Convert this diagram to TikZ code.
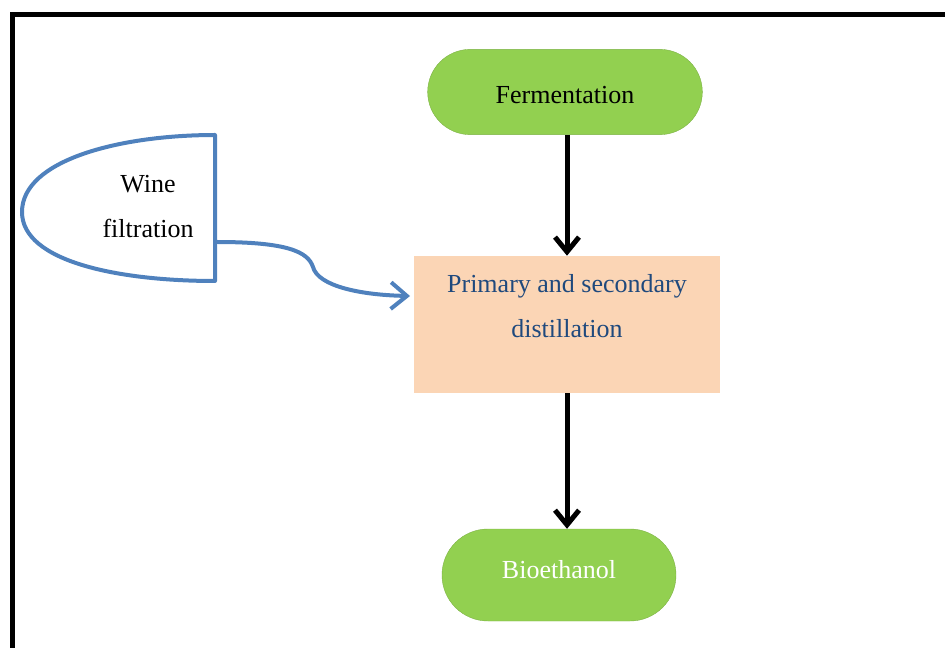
\documentclass[tikz,border=0pt]{standalone}
\usepackage{fontspec}
\setmainfont{Liberation Serif}
\usetikzlibrary{positioning, arrows.meta}
\definecolor{flowGreen}{HTML}{92D050}
\definecolor{flowPeach}{HTML}{FBD5B5}
\definecolor{flowBlue}{HTML}{4F81BD}
\definecolor{flowNavy}{HTML}{1F497D}

\begin{document}
\begin{tikzpicture}[x=0.75pt, y=-0.75pt,
    every node/.style={font=\fontsize{19.5}{33.75}\selectfont},
    terminal/.style={fill=flowGreen, draw=flowGreen!85!black, line width=0.3pt,
      inner sep=0pt},
    flowarrow/.style={-{Straight Barb[length=11pt, width=18pt]},
      line width=3.75pt, black},
    feedarrow/.style={-{Straight Barb[length=12pt, width=20pt]},
      line width=3pt, flowBlue}]
    \useasboundingbox (0,0) rectangle (945,648);
    % ---- outer frame ----
    \draw[line width=3.75pt] (12,648) -- (12,15) -- (945,15);
    % ---- main chain ----
    \node[terminal, minimum width=206pt, minimum height=64pt,
          rounded corners=32pt, text height=18pt, text depth=0pt] (ferm)
      at (565,92) {Fermentation};
    \node[fill=flowPeach, minimum width=229.5pt, minimum height=102.75pt,
          inner sep=0pt] (dist) at (567,324.5) {};
    \node[text=flowNavy, align=center, anchor=north, inner sep=0pt]
      (distlabel) at ([yshift=-14pt]dist.north)
      {Primary and secondary\\distillation};
    \node[terminal, minimum width=175.5pt, minimum height=69pt,
          rounded corners=34.5pt, text=white, text depth=8pt] (bio)
      at (559,575) {Bioethanol};
    \draw[flowarrow] (ferm.south -| dist.north) -- (dist.north);
    \draw[flowarrow] (dist.south) -- (dist.south |- bio.north);
    % ---- wine filtration input ----
    \draw[line width=3pt, flowBlue, line join=round]
      (215,135) -- (215,281)
      .. controls (120,281) and (22,262) .. (22,212)
      .. controls (22,160) and (120,135) .. (215,135) -- cycle;
    \node[align=center] (wine) at (148,207) {Wine\\filtration};
    \coordinate (wineout) at (217,242);
    \coordinate (distin) at (410,296);
    \draw[feedarrow] (wineout) .. controls (288,242) and (308,252) .. (313,267)
      .. controls (318,286) and (360,295) .. (distin);
\end{tikzpicture}
\end{document}
